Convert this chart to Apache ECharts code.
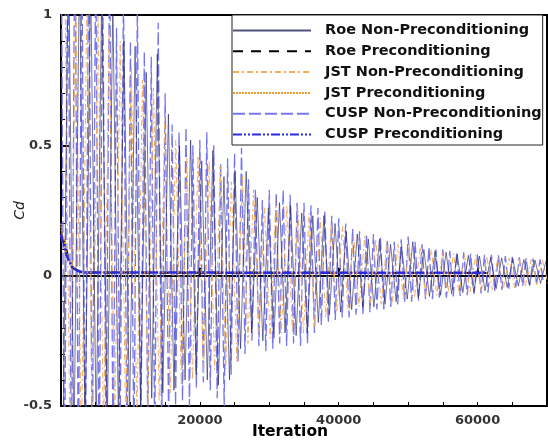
<!DOCTYPE html>
<html>
<head>
<meta charset="utf-8">
<script src="https://cdn.jsdelivr.net/npm/echarts@6/dist/echarts.min.js"></script>
<style>html,body{margin:0;padding:0;background:#fff}#c{width:548px;height:441px}</style>
</head>
<body>
<div id="c"></div>
<script>
// ---- data ----
const seriesNames = ['Roe Non-Preconditioning','Roe Preconditioning','JST Non-Preconditioning','JST Preconditioning','CUSP Non-Preconditioning','CUSP Preconditioning'];
const xTickLabels = ['20000','40000','60000'];
const yTickLabels = ['-0.5','0','0.5','1'];

// oscillating (non-preconditioned) runs: successive extrema
const CUSP_STEP = 500;   // iterations between successive extrema
const OTHER_STEP = 800;
const cuspNonStartIter = 0;
const roeNonStartIter = 270;
const jstNonStartIter = 530;

const cuspNonPre = [1.5,-0.9,1.4,-0.85,1.45,-0.8,1.3,-0.82,1.35,-0.75,1.25,-0.78,1.2,-0.7,1.28,-0.72,
  0.95,-0.68,1.1,-0.65,0.9,-0.7,1.05,-0.62,0.86,-0.6,0.84,-0.64,0.97,-0.58,
  0.7,-0.55,
  0.58,-0.5,0.55,-0.48,0.57,-0.5,
  0.5,-0.43,0.52,-0.41,0.55,-0.44,
  0.5,-0.47,0.43,-0.5,
  0.45,-0.38,0.47,-0.33,0.49,-0.3,
  0.37,-0.25,0.33,-0.27,0.29,-0.29,
  0.33,-0.28,0.32,-0.26,0.33,-0.27,0.31,-0.26,0.28,-0.27,0.28,-0.26,
  0.27,-0.22,0.26,-0.19,0.25,-0.18,0.23,-0.17,
  0.22,-0.16,0.2,-0.16,0.18,-0.15,0.17,-0.15,0.16,-0.14,
  0.16,-0.13,0.15,-0.13,0.14,-0.12,0.13,-0.11,0.14,-0.1,
  0.15,-0.1,0.13,-0.095,0.12,-0.09,0.11,-0.09,0.1,-0.085,
  0.1,-0.085,0.095,-0.08,0.09,-0.078,0.09,-0.075,0.085,-0.07,
  0.085,-0.068,0.08,-0.065,0.08,-0.06,0.078,-0.055,0.075,-0.05,
  0.072,-0.045,0.07,-0.04,0.068,-0.038,0.066,-0.034,0.063,-0.03];

const roeNonPre = [-0.7,1.3,-0.65,1.2,-0.62,1.15,-0.6,1.1,-0.58,1.05,
  -0.56,0.9,-0.55,0.88,-0.5,0.78,-0.47,0.85,-0.45,0.62,
  -0.44,0.5,-0.4,0.52,-0.38,0.44,-0.4,0.48,-0.42,0.38,
  -0.4,0.4,-0.28,0.4,-0.22,0.3,-0.25,0.26,-0.24,0.28,
  -0.22,0.27,-0.23,0.24,-0.22,0.23,-0.18,0.23,-0.15,0.2,
  -0.14,0.17,-0.13,0.16,-0.12,0.14,-0.12,0.14,-0.11,0.12,
  -0.1,0.11,-0.09,0.13,-0.085,0.1,-0.08,0.095,-0.075,0.09,
  -0.07,0.082,-0.065,0.078,-0.062,0.075,-0.058,0.07,-0.05,0.068,
  -0.045,0.065,-0.04,0.062,-0.035,0.06,-0.03,0.058];

const jstNonPre = [1.2,-0.75,1.15,-0.7,1.05,-0.66,1.0,-0.62,0.95,-0.6,
  0.9,-0.58,0.8,-0.55,0.75,-0.5,0.72,-0.48,0.6,-0.45,
  0.52,-0.42,0.45,-0.4,0.46,-0.38,0.44,-0.36,0.42,-0.36,
  0.36,-0.33,0.38,-0.26,0.33,-0.22,0.26,-0.24,0.28,-0.22,
  0.27,-0.21,0.25,-0.22,0.24,-0.2,0.22,-0.16,0.2,-0.14,
  0.19,-0.13,0.16,-0.12,0.15,-0.12,0.14,-0.11,0.13,-0.1,
  0.12,-0.09,0.12,-0.085,0.11,-0.08,0.1,-0.075,0.09,-0.07,
  0.085,-0.068,0.08,-0.062,0.078,-0.06,0.075,-0.055,0.07,-0.05,
  0.068,-0.045,0.065,-0.04,0.062,-0.035,0.06,-0.03];

// preconditioned runs: converge quickly
const precondIter = [0,200,400,600,800,1000,1300,1600,2000,2500,3200,61500];
const roePre  = [0.18,0.12,0.14,0.09,0.1,0.07,0.05,0.035,0.025,0.018,0.012,0.01];
const jstPre  = [0.2,0.14,0.15,0.1,0.09,0.075,0.055,0.04,0.028,0.02,0.013,0.01];
const cuspPre = [0.16,0.13,0.12,0.1,0.08,0.065,0.05,0.03,0.025,0.018,0.012,0.011];

// ---- build ----
function osc(values, startIter, step){ return values.map((v,i)=>[startIter + i*step, v]); }
function pre(values){ return values.map((v,i)=>[precondIter[i], v]); }

const FONT = 'DejaVu Sans';
const chart = echarts.init(document.getElementById('c'), null, {renderer:'canvas'});
const lineBase = {type:'line', symbol:'none', showSymbol:false, animation:false, xAxisIndex:0, yAxisIndex:0};

chart.setOption({
  animation:false,
  backgroundColor:'#fff',
  grid:{left:61, right:1, top:15, bottom:35, show:true, borderColor:'#000', borderWidth:2,
    backgroundColor:'transparent', containLabel:false, outerBoundsMode:'none'},
  legend:{
    data:seriesNames, orient:'vertical', left:232, top:15,
    itemWidth:78, itemHeight:12, itemGap:5.8,
    padding:[8,1,3,0],
    borderColor:'#222', borderWidth:1, backgroundColor:'#fff',
    itemStyle:{opacity:0, borderWidth:0},
    textStyle:{fontFamily:FONT, fontWeight:'bold', fontSize:14.5, color:'#111', padding:[0,0,0,9]},
    selectedMode:false
  },
  xAxis:[{
    type:'value', min:0, max:70000, interval:20000,
    axisLine:{show:true, lineStyle:{color:'#000', width:2}},
    axisTick:{show:true, inside:true, length:8, lineStyle:{color:'#000', width:2}},
    splitLine:{show:false},
    axisLabel:{showMinLabel:false, showMaxLabel:false, margin:8,
      fontFamily:FONT, fontWeight:'bold', fontSize:13, color:'#333',
      formatter:v=>{const s=String(v); return xTickLabels.indexOf(s)>=0?s:'';}},
    name:'Iteration', nameLocation:'middle', nameGap:18, nameMoveOverlap:false,
    nameTextStyle:{fontFamily:FONT, fontWeight:'bold', fontSize:15.5, color:'#000', padding:[0,28,0,0]}
  },{
    type:'value', min:0, max:70000, interval:5000, position:'bottom',
    axisLine:{show:false}, axisLabel:{show:false}, splitLine:{show:false},
    axisTick:{show:true, inside:true, length:4, lineStyle:{color:'#000', width:1}}
  }],
  yAxis:{
    type:'value', min:-0.5, max:1, interval:0.5,
    axisLine:{show:true, lineStyle:{color:'#000', width:2}},
    axisTick:{show:true, inside:true, length:9, lineStyle:{color:'#000', width:2}},
    minorTick:{show:true, splitNumber:5, length:4, lineStyle:{color:'#000', width:1}},
    splitLine:{show:false},
    axisLabel:{margin:9, fontFamily:FONT, fontWeight:'bold', fontSize:13, color:'#333',
      formatter:v=>{const s=String(+v.toFixed(2)); return yTickLabels.indexOf(s)>=0?s:'';}},
    name:'Cd', nameLocation:'middle', nameGap:34, nameRotate:90, nameMoveOverlap:false,
    nameTextStyle:{fontFamily:FONT, fontStyle:'italic', fontSize:14, color:'#222'}
  },
  series:[
    Object.assign({}, lineBase, {name:seriesNames[4], data:osc(cuspNonPre, cuspNonStartIter, CUSP_STEP), z:2,
      lineStyle:{color:'#7575f2', width:1.3, type:[12,4]}, itemStyle:{color:'#7575f2'}}),
    Object.assign({}, lineBase, {name:seriesNames[2], data:osc(jstNonPre, jstNonStartIter, OTHER_STEP), z:3,
      lineStyle:{color:'#f3ad5c', width:1, type:[6,3,2,3]}, itemStyle:{color:'#f3ad5c'}}),
    Object.assign({}, lineBase, {name:seriesNames[0], data:osc(roeNonPre, roeNonStartIter, OTHER_STEP), z:4,
      lineStyle:{color:'#24245e', width:0.8, opacity:0.8}, itemStyle:{color:'#24245e'}}),
    Object.assign({}, lineBase, {name:seriesNames[1], data:pre(roePre), z:5,
      lineStyle:{color:'#000', width:2, type:[10,8]}, itemStyle:{color:'#000'}}),
    Object.assign({}, lineBase, {name:seriesNames[3], data:pre(jstPre), z:6,
      lineStyle:{color:'#f09a30', width:1.5, type:[2,1]}, itemStyle:{color:'#f09a30'}}),
    Object.assign({}, lineBase, {name:seriesNames[5], data:pre(cuspPre), z:7,
      lineStyle:{color:'#2a2ade', width:2.5, type:[9,2,2,2,2,2]}, itemStyle:{color:'#2a2ade'}})
  ]
});
</script>
</body>
</html>
